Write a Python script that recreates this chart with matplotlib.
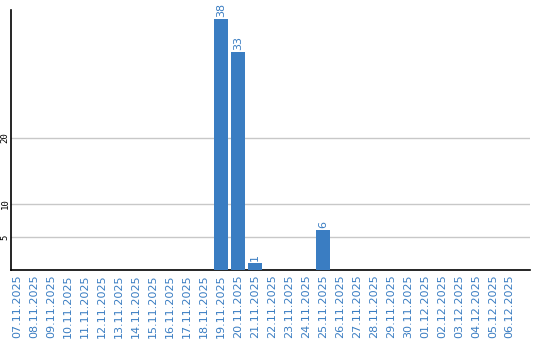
import matplotlib
matplotlib.use("Agg")
from matplotlib import pyplot as plt

# Données
dates = ["07.11.2025", "08.11.2025", "09.11.2025", "10.11.2025", "11.11.2025",
         "12.11.2025", "13.11.2025", "14.11.2025", "15.11.2025", "16.11.2025",
         "17.11.2025", "18.11.2025", "19.11.2025", "20.11.2025", "21.11.2025",
         "22.11.2025", "23.11.2025", "24.11.2025", "25.11.2025", "26.11.2025",
         "27.11.2025", "28.11.2025", "29.11.2025", "30.11.2025", "01.12.2025",
         "02.12.2025", "03.12.2025", "04.12.2025", "05.12.2025", "06.12.2025"]
values = [0, 0, 0, 0, 0, 0, 0, 0, 0, 0, 0, 0, 38, 33, 1,
          0, 0, 0, 6, 0, 0, 0, 0, 0, 0, 0, 0, 0, 0, 0]
y_ticks = [5, 10, 20]

blue = "#3a7dc2"

fig = plt.figure(figsize=(5.4, 3.4), dpi=100)
ax = fig.add_axes([0.0204, 0.206, 0.9607, 0.765])

x = list(range(len(dates)))
bars = ax.bar(x, values, width=0.82, color=blue, zorder=3)

# Étiquettes des valeurs au-dessus des barres
for xi, v in zip(x, values):
    if v > 0:
        ax.text(xi, v + 0.3, str(v), rotation=90, ha="center", va="bottom",
                color=blue, fontsize=8)

ax.set_xlim(-0.35, 30.18)
ax.set_ylim(0, 39.4)
ax.set_xticks(x)
ax.set_xticklabels(dates, rotation=90, color=blue, fontsize=8)
ax.set_yticks(y_ticks)
ax.set_yticklabels([str(t) for t in y_ticks], rotation=90, fontsize=6.5,
                   family="DejaVu Sans Mono", va="center")
ax.tick_params(axis="x", length=0, pad=3)
ax.tick_params(axis="y", length=0, pad=1)
ax.grid(axis="y", color="#c8c8c8", linewidth=1, zorder=0)

for s in ["top", "right"]:
    ax.spines[s].set_visible(False)
ax.spines["left"].set_linewidth(1.2)
ax.spines["bottom"].set_linewidth(1.2)

fig.savefig("out.png", dpi=100)
